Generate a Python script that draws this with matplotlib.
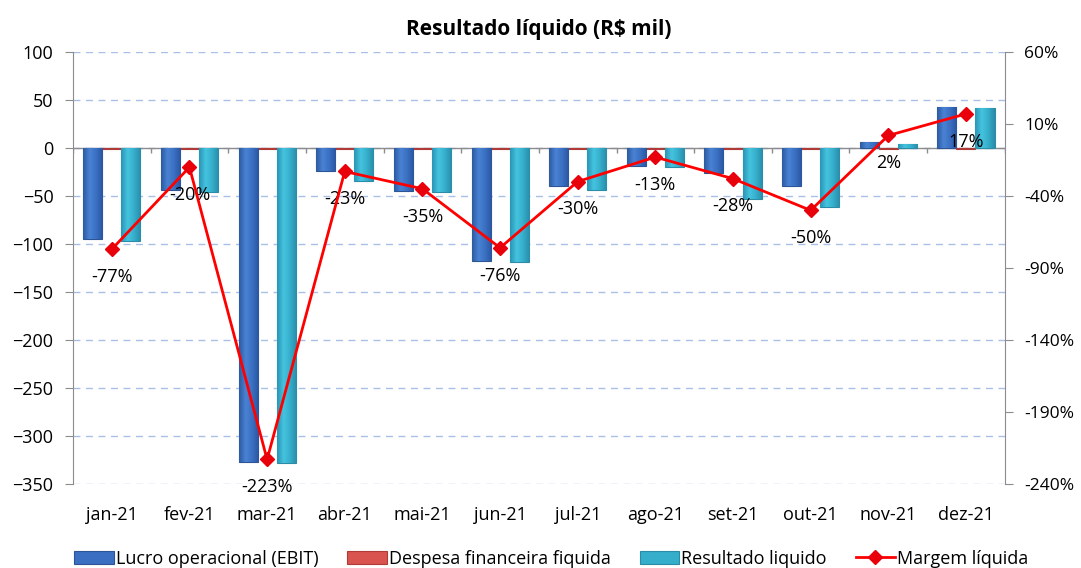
import numpy as np
import matplotlib.pyplot as plt
from matplotlib.colors import LinearSegmentedColormap

plt.rcParams['font.family'] = ['Open Sans', 'DejaVu Sans']

meses = ['jan-21', 'fev-21', 'mar-21', 'abr-21', 'mai-21', 'jun-21',
         'jul-21', 'ago-21', 'set-21', 'out-21', 'nov-21', 'dez-21']
ebit = [-95, -44, -327, -24, -45, -118, -40, -19, -26, -40, 6, 43]
desp_fin = [-1, -1, -1, -1, -1, -1, -1, -1, -1, -1, -1, -1]
resultado = [-97, -46, -328, -34, -46, -119, -44, -20, -53, -61, 4, 42]
margem = [-77, -20, -223, -23, -35, -76, -30, -13, -28, -50, 2, 17]


def gradiente(ax, barras, cores):
    # sombreado horizontal tipo Excel dentro de cada barra
    cmap = LinearSegmentedColormap.from_list('g', cores)
    grad = np.linspace(0, 1, 64).reshape(1, -1)
    for b in barras:
        x0, y0 = b.get_x(), b.get_y()
        x1, y1 = x0 + b.get_width(), y0 + b.get_height()
        im = ax.imshow(grad, cmap=cmap, extent=(x0, x1, min(y0, y1), max(y0, y1)),
                       aspect='auto', zorder=3.5, interpolation='bicubic')
        im.set_clip_path(b)


fig = plt.figure(figsize=(10.81, 5.68), dpi=100)
ax = fig.add_axes([0.0675, 0.148, 0.862, 0.7605])
x = np.arange(len(meses))
w = 0.245

b1 = ax.bar(x - w, ebit, w, color='#3b6fc2', edgecolor='#2d5595', linewidth=0.8,
            label='Lucro operacional (EBIT)', zorder=3)
b2 = ax.bar(x, desp_fin, w, color='#d9534f', edgecolor='#b03a36', linewidth=0.8,
            label='Despesa financeira fiquida', zorder=3)
b3 = ax.bar(x + w, resultado, w, color='#35aecb', edgecolor='#2a8ca6', linewidth=0.8,
            label='Resultado liquido', zorder=3)
gradiente(ax, b1, ['#2c5aa0', '#4a82d4', '#3a70c2', '#2a55a0'])
gradiente(ax, b3, ['#2a95b5', '#45c3df', '#35aecb', '#2a8ca8'])

ax.set_ylim(-350, 100)
ax.set_xlim(-0.5, len(meses) - 0.5)
ax.set_yticks(np.arange(-350, 101, 50))
ax.grid(axis='y', color='#a9bfe8', linestyle=(0, (5, 4)), linewidth=1, zorder=0)
ax.axhline(0, color='#8c8c8c', linewidth=1, zorder=2)
ax.vlines(np.arange(len(meses) + 1) - 0.5, -5, 0, color='#8c8c8c', linewidth=1)
ax.set_xticks(x)
ax.set_xticklabels(meses)
ax.tick_params(axis='x', length=0, pad=16, labelsize=13)
ax.tick_params(axis='y', labelsize=13, color='#8c8c8c', length=6, pad=8)
for s in ['top', 'bottom', 'right']:
    ax.spines[s].set_visible(False)
ax.spines['left'].set_color('#8c8c8c')

ax2 = ax.twinx()
ax2.plot(x, margem, color='#ff0000', linewidth=2, marker='D', markersize=7,
         markerfacecolor='#e8000b', markeredgecolor='#e8000b',
         label='Margem líquida', zorder=5)
for xi, m in zip(x, margem):
    ax2.annotate(f'{m}%', (xi, m), xytext=(0, -20), textcoords='offset points',
                 ha='center', va='center', fontsize=13)
ax2.set_ylim(-240, 60)
ax2.set_yticks(np.arange(-240, 61, 50))
ax2.set_yticklabels([f'{v}%' for v in np.arange(-240, 61, 50)])
ax2.tick_params(axis='y', labelsize=12.5, color='#8c8c8c', length=6, pad=8)
for s in ['top', 'bottom', 'left']:
    ax2.spines[s].set_visible(False)
ax2.spines['right'].set_color('#8c8c8c')

ax.set_title(r'Resultado líquido (R\$ mil)', fontsize=15, fontweight='bold', pad=12)

h1, l1 = ax.get_legend_handles_labels()
h2, l2 = ax2.get_legend_handles_labels()
fig.legend(h1 + h2, l1 + l2, loc='lower center', ncol=4, frameon=False,
           fontsize=13, bbox_to_anchor=(0.51, -0.028), handlelength=2.2,
           handletextpad=0.1, columnspacing=1.6)

fig.savefig('out.png', dpi=100)
